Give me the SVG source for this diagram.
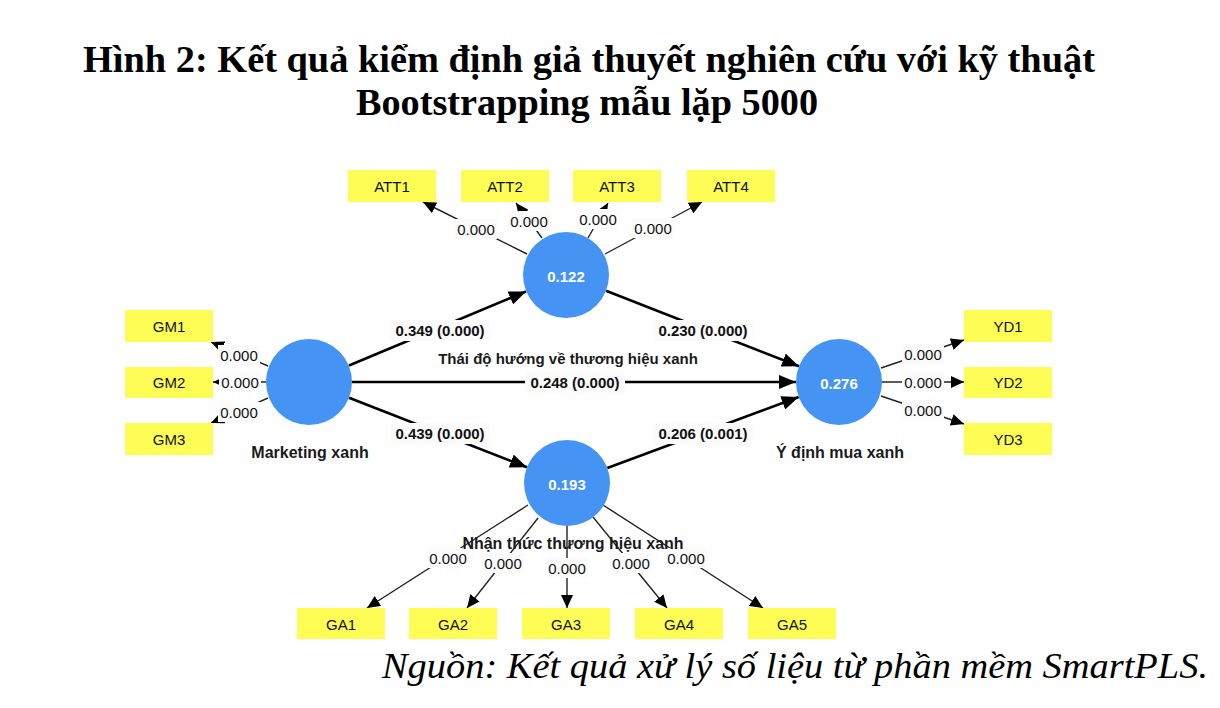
<svg xmlns="http://www.w3.org/2000/svg" width="1220" height="708" viewBox="0 0 1220 708">
<defs>
<style>
.ind rect{fill:#fdfd55}
.ind text{font-family:"Liberation Sans",Arial,sans-serif;font-size:15px;fill:#111;text-anchor:middle;dominant-baseline:central}
.lat circle{fill:#4594f3}
.lat text.v{font-family:"Liberation Sans",Arial,sans-serif;font-size:15px;font-weight:bold;fill:#fff;text-anchor:middle;dominant-baseline:central}
.lat text.n{font-family:"Liberation Sans",Arial,sans-serif;font-size:16px;font-weight:bold;fill:#1a1a1a;text-anchor:middle;dominant-baseline:central}
.lat text.n2{font-family:"Liberation Sans",Arial,sans-serif;font-size:15px;font-weight:bold;fill:#1a1a1a;text-anchor:middle;dominant-baseline:central}
.ld{stroke:#222;stroke-width:1.4;fill:none;marker-end:url(#ah)}
.st{stroke:#000;stroke-width:2.6;fill:none;marker-end:url(#ahb)}
.lb rect{fill:#fbfbfb}
.lb text{font-family:"Liberation Sans",Arial,sans-serif;font-size:15px;fill:#111;text-anchor:middle;dominant-baseline:central}
.sb rect{fill:#fbfbfb}
.sb text{font-family:"Liberation Sans",Arial,sans-serif;font-size:15px;font-weight:bold;fill:#111;text-anchor:middle;dominant-baseline:central}
.title{font-family:"Liberation Serif","Times New Roman",serif;font-weight:bold;font-size:37px;fill:#000;text-anchor:middle}
.cap{font-family:"Liberation Serif","Times New Roman",serif;font-style:italic;font-size:36px;fill:#000}
</style>
<marker id="ah" markerUnits="userSpaceOnUse" markerWidth="13" markerHeight="12" refX="13" refY="6" orient="auto">
<path d="M0,0 L13,6 L0,12 z" fill="#000"/>
</marker>
<marker id="ahb" markerUnits="userSpaceOnUse" markerWidth="17" markerHeight="14" refX="17" refY="7" orient="auto">
<path d="M0,0 L17,7 L0,14 z" fill="#000"/>
</marker>
</defs>
<rect width="1220" height="708" fill="#fff"/>

<g id="title">
<text class="title" x="589" y="72" textLength="1012" lengthAdjust="spacingAndGlyphs">Hình 2: Kết quả kiểm định giả thuyết nghiên cứu với kỹ thuật</text>
<text class="title" x="587" y="115" textLength="462" lengthAdjust="spacingAndGlyphs">Bootstrapping mẫu lặp 5000</text>
</g>

<g id="connectors">
<line class="st" x1="349" y1="365.5" x2="526" y2="291.5"/>
<line class="st" x1="352" y1="382" x2="796" y2="382"/>
<line class="st" x1="349" y1="397.7" x2="527" y2="467.3"/>
<line class="st" x1="606" y1="290.7" x2="799" y2="366.3"/>
<line class="st" x1="607.3" y1="468" x2="798.7" y2="397"/>
<line class="ld" x1="527" y1="254" x2="423" y2="202"/>
<line class="ld" x1="542" y1="238" x2="516" y2="203"/>
<line class="ld" x1="588" y1="238" x2="608" y2="203"/>
<line class="ld" x1="605" y1="254" x2="702" y2="202"/>
<line class="ld" x1="268" y1="366" x2="211" y2="342"/>
<line class="ld" x1="266" y1="382" x2="213" y2="382"/>
<line class="ld" x1="268" y1="398" x2="211" y2="423"/>
<line class="ld" x1="881" y1="368" x2="964" y2="340"/>
<line class="ld" x1="882" y1="382" x2="964" y2="382"/>
<line class="ld" x1="881" y1="396" x2="964" y2="424"/>
<line class="ld" x1="528" y1="505" x2="367" y2="608"/>
<line class="ld" x1="538" y1="518" x2="467" y2="608"/>
<line class="ld" x1="567" y1="526" x2="567" y2="608"/>
<line class="ld" x1="593" y1="517" x2="667" y2="608"/>
<line class="ld" x1="603" y1="505" x2="763" y2="608"/>
<g class="sb">
<rect x="390" y="320" width="100" height="21"/><text x="440" y="330">0.349 (0.000)</text>
<rect x="653" y="320" width="100" height="21"/><text x="703" y="330">0.230 (0.000)</text>
<rect x="525" y="372" width="100" height="21"/><text x="575" y="382">0.248 (0.000)</text>
<rect x="390" y="423" width="100" height="21"/><text x="440" y="433">0.439 (0.000)</text>
<rect x="653" y="423" width="100" height="21"/><text x="703" y="433">0.206 (0.001)</text>
</g>
<g class="lb">
<rect x="455" y="219" width="42" height="20"/><text x="476" y="229">0.000</text>
<rect x="508" y="211" width="42" height="20"/><text x="529" y="221">0.000</text>
<rect x="577" y="209" width="42" height="20"/><text x="598" y="219">0.000</text>
<rect x="632" y="218" width="42" height="20"/><text x="653" y="228">0.000</text>
<rect x="218" y="345" width="42" height="20"/><text x="239" y="355">0.000</text>
<rect x="219" y="372" width="42" height="20"/><text x="240" y="382">0.000</text>
<rect x="218" y="402" width="42" height="20"/><text x="239" y="412">0.000</text>
<rect x="902" y="344" width="42" height="20"/><text x="923" y="354">0.000</text>
<rect x="902" y="372" width="42" height="20"/><text x="923" y="382">0.000</text>
<rect x="902" y="400" width="42" height="20"/><text x="923" y="410">0.000</text>
<rect x="427" y="548" width="42" height="20"/><text x="448" y="558">0.000</text>
<rect x="482" y="553" width="42" height="20"/><text x="503" y="563">0.000</text>
<rect x="546" y="558" width="42" height="20"/><text x="567" y="568">0.000</text>
<rect x="610" y="553" width="42" height="20"/><text x="631" y="563">0.000</text>
<rect x="665" y="548" width="42" height="20"/><text x="686" y="558">0.000</text>
</g>
</g>

<g id="ATT1" class="ind"><rect x="348" y="170" width="88" height="32"/><text x="392" y="186">ATT1</text></g>
<g id="ATT2" class="ind"><rect x="461" y="170" width="88" height="32"/><text x="505" y="186">ATT2</text></g>
<g id="ATT3" class="ind"><rect x="573" y="170" width="88" height="32"/><text x="617" y="186">ATT3</text></g>
<g id="ATT4" class="ind"><rect x="687" y="170" width="88" height="32"/><text x="731" y="186">ATT4</text></g>

<g id="GM1" class="ind"><rect x="125" y="310" width="88" height="32"/><text x="169" y="326">GM1</text></g>
<g id="GM2" class="ind"><rect x="125" y="367" width="88" height="31"/><text x="169" y="382">GM2</text></g>
<g id="GM3" class="ind"><rect x="125" y="423" width="88" height="32"/><text x="169" y="439">GM3</text></g>

<g id="YD1" class="ind"><rect x="964" y="310" width="88" height="32"/><text x="1008" y="326">YD1</text></g>
<g id="YD2" class="ind"><rect x="964" y="367" width="88" height="31"/><text x="1008" y="382">YD2</text></g>
<g id="YD3" class="ind"><rect x="964" y="423" width="88" height="32"/><text x="1008" y="439">YD3</text></g>

<g id="GA1" class="ind"><rect x="297" y="608" width="88" height="31"/><text x="341" y="624">GA1</text></g>
<g id="GA2" class="ind"><rect x="409" y="608" width="88" height="31"/><text x="453" y="624">GA2</text></g>
<g id="GA3" class="ind"><rect x="522" y="608" width="88" height="31"/><text x="566" y="624">GA3</text></g>
<g id="GA4" class="ind"><rect x="635" y="608" width="88" height="31"/><text x="679" y="624">GA4</text></g>
<g id="GA5" class="ind"><rect x="748" y="608" width="88" height="31"/><text x="792" y="624">GA5</text></g>

<g id="marketing" class="lat"><circle cx="309" cy="382" r="43"/><text class="n" x="310" y="452">Marketing xanh</text></g>
<g id="thaido" class="lat"><circle cx="566" cy="275" r="43"/><text class="v" x="566" y="276">0.122</text><text class="n2" x="568" y="358">Thái độ hướng về thương hiệu xanh</text></g>
<g id="nhanthuc" class="lat"><circle cx="567" cy="483" r="43"/><text class="v" x="567" y="484">0.193</text><text class="n" x="573" y="543">Nhận thức thương hiệu xanh</text></g>
<g id="ydinh" class="lat"><circle cx="839" cy="382" r="43"/><text class="v" x="839" y="383">0.276</text><text class="n" x="840" y="452">Ý định mua xanh</text></g>

<g id="caption">
<text class="cap" x="382" y="678" textLength="826" lengthAdjust="spacingAndGlyphs">Nguồn: Kết quả xử lý số liệu từ phần mềm SmartPLS.</text>
</g>
</svg>
